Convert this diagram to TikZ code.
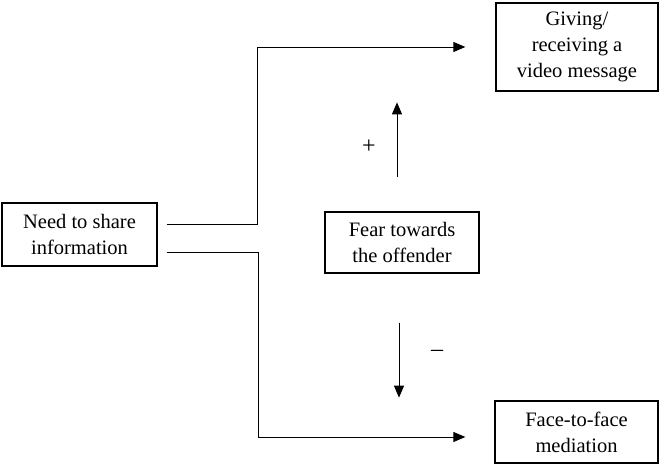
\documentclass[tikz,border=0pt]{standalone}
\usepackage{fontspec}
\setmainfont{Liberation Serif}
\usetikzlibrary{arrows.meta,calc}

\begin{document}
\begin{tikzpicture}[x=1pt, y=1pt,
  box/.style = {draw, line width=1.3pt, align=center, inner sep=0pt,
                font=\rmfamily\fontsize{20.5}{26}\selectfont},
  sign/.style = {font=\rmfamily\fontsize{24}{26}\selectfont},
  link/.style = {line width=0.9pt, -{Triangle[length=12pt, width=10pt]}}]
  \useasboundingbox (0,0) rectangle (659,465);

  \node[box, minimum width=155, minimum height=63] (need) at (79.5,230.5) {Need to share\\information};

  \node[box, minimum width=162, minimum height=88] (video) at (577,418) {Giving/\\receiving a\\video message};
  \node[box, minimum width=154, minimum height=61] (fear) at (402,222.5) {Fear towards\\the offender};
  \node[box, minimum width=163, minimum height=62] (face) at (576.5,33) {Face-to-face\\mediation};

  \draw[link] ($(need.east)+(9,10.5)$) -| (257,418) -- ($(video.west)+(-30,0)$);
  \draw[link] ($(need.east)+(9,-17.5)$) -| (258,28) -- ($(face.west)+(-29,-5)$);

  \draw[link] ($(fear.north)+(-5,34)$) -- ++(0,75);
  \draw[link] ($(fear.south)+(-3,-49)$) -- ++(0,-75);

  \node[sign] (plus) at (369,318) {+};
  \node[sign] (minus) at (437,112) {--};

\end{tikzpicture}
\end{document}
